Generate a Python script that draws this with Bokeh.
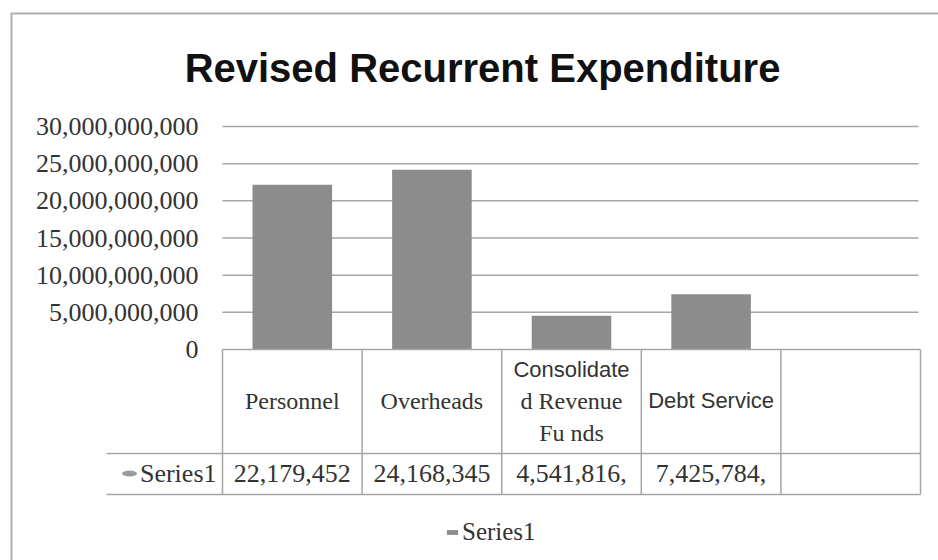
from bokeh.plotting import figure
from bokeh.models import Range1d, ColumnDataSource, Legend, LegendItem
from bokeh.core.properties import value
from bokeh.embed import file_html
from bokeh.resources import INLINE

# ---------------- data ----------------
title_text = "Revised Recurrent Expenditure"
categories = ["Personnel", "Overheads", "Consolidated Revenue Funds", "Debt Service", ""]
category_lines = [["Personnel"], ["Overheads"], ["Consolidate", "d Revenue", "Fu nds"], ["Debt Service"], []]
category_line_fonts = [["serif"], ["serif"], ["sans", "serif", "serif"], ["sans"], []]
series_name = "Series1"
series_values = [22179452000, 24168345000, 4541816000, 7425784000, None]
tick_values = [0, 5e9, 10e9, 15e9, 20e9, 25e9, 30e9]
tick_labels = ["0", "5,000,000,000", "10,000,000,000", "15,000,000,000",
               "20,000,000,000", "25,000,000,000", "30,000,000,000"]

# ---------------- layout (page pixels) ----------------
W, H = 938, 560
OX, OY = 0, 0
PLOT_L, COL_W = 222, 139.6
ZERO_Y, TOP_Y, Y_MAX = 349, 126, 30e9
n_cols = len(categories)

x_c0 = PLOT_L + COL_W / 2
xr = Range1d((OX - x_c0) / COL_W, (OX + W - x_c0) / COL_W)
sc = (ZERO_Y - TOP_Y) / Y_MAX
yr = Range1d(-(OY + H - ZERO_Y) / sc, (ZERO_Y - OY) / sc)

p = figure(width=W, height=H, x_range=xr, y_range=yr, output_backend="svg",
           toolbar_location=None, x_axis_location=None, y_axis_location=None,
           min_border=0, outline_line_color=None)
p.grid.visible = False
p.extra_x_ranges = {"px": Range1d(OX, OX + W)}
p.extra_y_ranges = {"px": Range1d(OY + H, OY)}

SERIF = "Liberation Serif"
SANS = "Liberation Sans"
TXT = "#333333"
LINE = "#a6a6a6"

# outer border
p.segment(x0=[10, 11], y0=[13, 13], x1=[OX + W, 11], y1=[13, OY + H],
          x_range_name="px", y_range_name="px", line_color="#b0b0b0", line_width=2)

# title
p.text(x=[482], y=[67], text=[title_text], x_range_name="px", y_range_name="px",
       text_font=value(SANS), text_font_style="bold", text_font_size="40px",
       text_align="center", text_baseline="middle", text_color="#111111")

# gridlines (non-zero ticks)
gt = [t for t in tick_values if t > 0]
p.segment(x0=[-0.5] * len(gt), x1=[(918 - x_c0) / COL_W] * len(gt), y0=gt, y1=gt,
          line_color=LINE, line_width=1.5)

# y tick labels
p.text(x=[198] * len(tick_values), y=tick_values, text=tick_labels, x_range_name="px",
       text_font=value(SERIF), text_font_size="26px", text_align="right",
       text_baseline="middle", text_color=TXT)

# bars
bx = [i for i, v in enumerate(series_values) if v is not None]
bv = [v for v in series_values if v is not None]
bars = p.vbar(x=bx, top=bv, bottom=0, width=0.57, fill_color="#8c8c8c", line_color=None)

# data table grid
ROW1_B, ROW2_B = 453, 494
p.segment(x0=[i - 0.5 for i in range(n_cols + 1)], x1=[i - 0.5 for i in range(n_cols + 1)],
          y0=[ZERO_Y] * (n_cols + 1), y1=[ROW2_B] * (n_cols + 1), y_range_name="px",
          line_color=LINE, line_width=1.5)
p.segment(x0=[PLOT_L, 106, 106], x1=[PLOT_L + COL_W * n_cols] * 3,
          y0=[ZERO_Y, ROW1_B, ROW2_B], y1=[ZERO_Y, ROW1_B, ROW2_B],
          x_range_name="px", y_range_name="px", line_color=LINE, line_width=1.5)

# category labels (vertical centres of the header lines)
mid_single = 400
mid_multi = [369, 400, 432]
cat = {"serif": dict(x=[], y=[], text=[]), "sans": dict(x=[], y=[], text=[])}
for i, (lines, fonts) in enumerate(zip(category_lines, category_line_fonts)):
    mids = [mid_single] if len(lines) == 1 else mid_multi[:len(lines)]
    for ln, fn, m in zip(lines, fonts, mids):
        cat[fn]["x"].append(i)
        cat[fn]["y"].append(m)
        cat[fn]["text"].append(ln)
p.text(x="x", y="y", text="text", source=ColumnDataSource(cat["serif"]), y_range_name="px",
       text_font=value(SERIF), text_font_size="24px", text_align="center",
       text_baseline="middle", text_color=TXT)
p.text(x="x", y="y", text="text", source=ColumnDataSource(cat["sans"]), y_range_name="px",
       text_font=value(SANS), text_font_size="22px", text_align="center",
       text_baseline="middle", text_color=TXT)

# value row
ROW_MID = 473
vals_txt = [format(v, ",")[:10] for v in bv]
p.text(x=bx, y=[ROW_MID] * len(bx), text=vals_txt, y_range_name="px",
       text_font=value(SERIF), text_font_size="26px", text_align="center",
       text_baseline="middle", text_color=TXT)

# row header with key
p.ellipse(x=[129], y=[ROW_MID], width=15, height=6, x_range_name="px", y_range_name="px",
          fill_color="#9a9a9a", line_color=None)
p.text(x=[216], y=[ROW_MID], text=[series_name], x_range_name="px", y_range_name="px",
       text_font=value(SERIF), text_font_size="26px", text_align="right",
       text_baseline="middle", text_color=TXT)

# legend
legend = Legend(items=[LegendItem(label=series_name, renderers=[bars])],
                location=(445, 14), glyph_width=14, glyph_height=6, label_standoff=3,
                label_text_font=SERIF, label_text_font_size="25px", label_text_color=TXT,
                border_line_color=None, background_fill_alpha=0, padding=0, margin=0,
                spacing=0)
p.add_layout(legend)

open("out.html", "w").write(file_html(p, INLINE))
